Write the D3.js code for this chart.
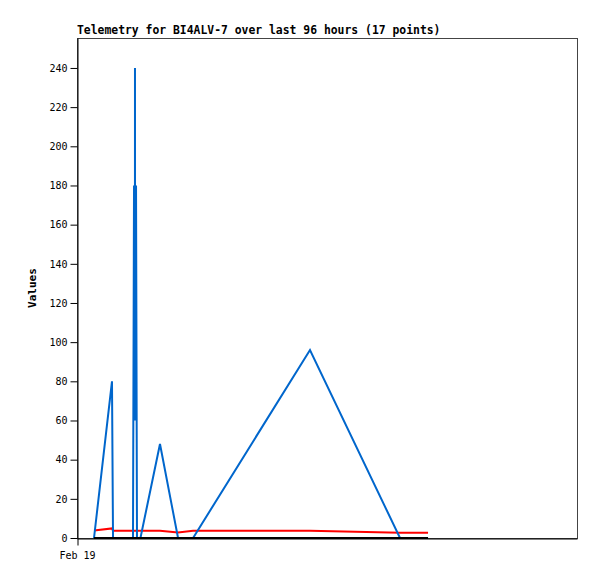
<!DOCTYPE html>
<html>
<head>
<meta charset="utf-8">
<script src="https://cdn.jsdelivr.net/npm/d3@7"></script>
<style>
  body { margin: 0; background: #fff; }
  svg { display: block; }
  .title { font: bold 11.4px "DejaVu Sans Mono", monospace; }
  .axis-title { font: bold 11px "DejaVu Sans Mono", monospace; }
  .tick text { font: 10px "DejaVu Sans Mono", monospace; fill: #000; }
</style>
</head>
<body>
<svg id="chart" width="597" height="579"></svg>
<script>
"use strict";

// sample times (UTC)
const times = [
  "2025-02-19 03:16", "2025-02-19 06:43", "2025-02-19 06:55",
  "2025-02-19 10:45", "2025-02-19 10:57", "2025-02-19 11:07",
  "2025-02-19 11:08", "2025-02-19 11:09", "2025-02-19 11:20",
  "2025-02-19 11:31", "2025-02-19 12:11", "2025-02-19 15:56",
  "2025-02-19 19:24", "2025-02-19 22:17", "2025-02-20 20:44",
  "2025-02-21 14:01", "2025-02-21 19:24"
];

const blueValues  = [0, 80, 0, 0, 180, 60, 240, 60, 180, 0, 0, 48, 0, 0, 96, 0, 0];
const redValues   = [3.8, 4.9, 3.7, 3.7, 3.7, 3.7, 3.7, 3.7, 3.7, 3.7, 3.7, 3.7, 2.8, 3.7, 3.7, 2.7, 2.7];
const blackValues = [0, 0, 0, 0, 0, 0, 0, 0, 0, 0, 0, 0, 0, 0, 0, 0, 0];

const yTicks = [0, 20, 40, 60, 80, 100, 120, 140, 160, 180, 200, 220, 240];
const xTickLabels = ["2025-02-19 00:00"];

const parse = d3.utcParse("%Y-%m-%d %H:%M");
const dates = times.map(parse);

const margins = {top: 38, right: 20, bottom: 41, left: 77};
const svgEl = document.getElementById("chart");
const width = svgEl.clientWidth - margins.left - margins.right;
const height = svgEl.clientHeight - margins.top - margins.bottom;

const start = parse("2025-02-19 00:00");
const end = new Date(+start + 96 * 3600 * 1000);

const xScale = d3.scaleUtc().domain([start, end]).range([0, width]);
const yScale = d3.scaleLinear().domain([0, 255.3]).range([height, 0]);

const svg = d3.select(svgEl)
  .append("g")
  .attr("transform", `translate(${margins.left}, ${margins.top})`);

// frame
svg.append("rect")
  .attr("x", 0.5).attr("y", 0.5)
  .attr("width", width).attr("height", height)
  .attr("fill", "none")
  .attr("stroke", "#444");

// series
const line = d3.line()
  .x((d, i) => xScale(dates[i]))
  .y(d => yScale(d));

[
  {values: redValues, color: "#ff0000"},
  {values: blueValues, color: "#0066cc"},
  {values: blackValues, color: "#000000"},
].forEach(s => {
  svg.append("path")
    .datum(s.values)
    .attr("fill", "none")
    .attr("stroke", s.color)
    .attr("stroke-width", 2)
    .attr("stroke-linejoin", "miter")
    .attr("d", line);
});

// axes
svg.append("g")
  .attr("transform", "translate(0.5, 0)")
  .call(d3.axisLeft(yScale)
          .tickValues(yTicks)
          .tickSize(7)
          .tickPadding(3)
          .tickSizeOuter(0))
  .call(g => g.select(".domain").attr("stroke", "#000"));

svg.append("g")
  .attr("transform", `translate(0, ${height + 0.5})`)
  .call(d3.axisBottom(xScale)
          .tickValues(xTickLabels.map(parse))
          .tickFormat(d3.utcFormat("%b %d"))
          .tickSize(7)
          .tickPadding(6)
          .tickSizeOuter(0))
  .call(g => g.select(".domain").attr("stroke", "#000"))
  .call(g => g.selectAll(".tick line").attr("transform", "translate(0.5, 0)"));

// titles
svg.append("text")
  .attr("class", "title")
  .attr("x", 0)
  .attr("y", -4)
  .text("Telemetry for BI4ALV-7 over last 96 hours (17 points)");

svg.append("text")
  .attr("class", "axis-title")
  .attr("text-anchor", "middle")
  .attr("transform", `translate(${-41}, ${height / 2}) rotate(-90)`)
  .text("Values");
</script>
</body>
</html>
